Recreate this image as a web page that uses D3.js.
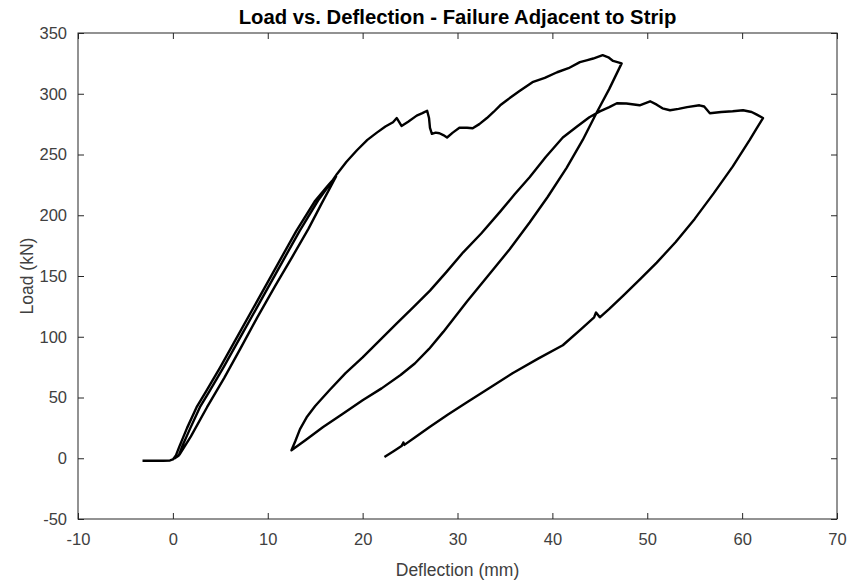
<!DOCTYPE html>
<html>
<head>
<meta charset="utf-8">
<script src="https://cdn.jsdelivr.net/npm/d3@7"></script>
<style>
  body { margin: 0; background: #fff; }
  text { font-family: "Liberation Sans", Arial, sans-serif; }
</style>
</head>
<body>
<svg width="849" height="582"></svg>
<script>
// test record: [deflection mm, load kN]
var preload = [[-3.2,-2],[-1,-2],[-0.3,-1.8],[0,-1]];
var load1 = [[0,-1],[0.3,2],[0.7,10],[1.5,25],[2.5,42],[3.5,55],[5,75],[7,103],[9,131],
    [11,159],[13,187],[15,212],[16.3,224],[17.2,232]];
var unload1 = [[16.6,223],[15.7,210],[14.3,189],[12.6,166],[10.8,142],[8.9,116],[7.1,90],[5.4,66],
    [3.6,42],[1.9,18],[0.7,3],[0.2,0]];
var reload1 = [[0.6,2],[1.0,10],[1.85,25],[2.85,42],[3.85,55],[5.35,75],[7.35,103],[9.35,131],
    [11.35,159],[13.35,187],[15.3,212],[16.5,225],[17.3,234]];
var yield1 = [[18.3,244],[19.4,253.5],[20.5,262],[21.5,268],[22.4,273],[23.2,276.5],[23.6,280],
    [24.1,273.5],[24.8,277],[25.7,282],[26.3,284],[26.8,286],[27.0,280],[27.1,272],[27.3,267],
    [27.7,268],[28.1,267.5],[28.5,266],[28.9,264],[29.5,268],[30.2,272],[31,272],[31.6,271.6],
    [32.3,275],[33.1,280],[33.8,285],[34.5,290.5],[35.2,294.7],[36.5,302],[37.9,309.5],[39.2,313],
    [40.5,317.7],[41.7,321],[42.9,326],[43.6,327.5],[44.3,329],[45.3,331.7],[45.9,330],[46.4,327],
    [47.3,325]];
var unload2 = [[46.0,304],[44.7,285],[43.2,262],[41.5,239],[39.5,215],[37.6,194],[35.5,172],
    [33.2,150],[31,129],[28.5,104],[27,90],[25.5,78],[24,68.5],[22,57.5],[20,47.7],
    [17.8,36],[15.8,25.5],[14,15],[12.5,6.6]];
var reload2 = [[12.9,14],[13.4,24],[14.1,33.7],[15,43],[16.5,56],[18.2,70],[20,83],[21.8,97],
    [23.6,111],[25.3,124],[27.1,138],[28.8,153],[30.6,169.5],[32.5,185],[34.5,203],[36,217],
    [37.6,231.3],[39.3,248],[41.1,264],[42.6,273],[43.9,280.7],[45,285.5],[46,289],[46.8,292.2],
    [47.8,292],[49.2,290.5],[50.3,293.8],[51,291],[51.6,288],[52.4,286.4],[53.3,287.5],[54.2,289],
    [55.5,290.5],[56,289.5],[56.6,284],[57.8,285],[59,285.6],[60.1,286.4],[61,285],[61.5,283],
    [62.2,280]];
var unload3 = [[61.5,271],[60.8,262],[59,240],[57,218],[55,197],[53,178],[51,161],[49.2,147],
    [47.5,134],[46,123],[45,116],[44.6,120],[44.4,116],[43,106],[41.1,93],[38.5,82],[35.8,70],
    [33.2,57],[31,46],[29,36],[27.1,26],[25.5,17],[24.4,11],[24.3,13],[24.1,10],[23.3,6],[22.3,1]];

var xTicks = [-10, 0, 10, 20, 30, 40, 50, 60, 70];
var yTicks = [-50, 0, 50, 100, 150, 200, 250, 300, 350];

var svg = d3.select("svg"),
    mLeft = 78, mRight = 837, mTop = 33, mBottom = 519;

var x = d3.scaleLinear().domain([-10, 70]).range([mLeft, mRight]);
var y = d3.scaleLinear().domain([-50, 350]).range([mBottom, mTop]);

var axisColor = "#262626", labelColor = "#404040";
var fmt = function(d) { return String(d); };

// box
svg.append("rect")
    .attr("x", mLeft).attr("y", mTop)
    .attr("width", mRight - mLeft).attr("height", mBottom - mTop)
    .attr("fill", "none").attr("stroke", axisColor).attr("stroke-width", 1);

function styleAxis(g) {
    g.select(".domain").remove();
    g.selectAll(".tick line").attr("stroke", axisColor);
    g.selectAll(".tick text").attr("fill", labelColor).style("font-size", "16.5px");
}

svg.append("g")
    .attr("transform", "translate(0," + mBottom + ")")
    .call(d3.axisBottom(x).tickValues(xTicks).tickSize(-6).tickPadding(14).tickFormat(fmt))
    .call(styleAxis);
svg.append("g")
    .attr("transform", "translate(0," + mTop + ")")
    .call(d3.axisTop(x).tickValues(xTicks).tickSize(-6).tickFormat(""))
    .call(styleAxis);
svg.append("g")
    .attr("transform", "translate(" + mLeft + ",0)")
    .call(d3.axisLeft(y).tickValues(yTicks).tickSize(-6).tickPadding(11).tickFormat(fmt))
    .call(styleAxis);
svg.append("g")
    .attr("transform", "translate(" + mRight + ",0)")
    .call(d3.axisRight(y).tickValues(yTicks).tickSize(-6).tickFormat(""))
    .call(styleAxis);

var points = [].concat(preload, load1, unload1, reload1, yield1, unload2, reload2, unload3);

var line = d3.line()
    .x(function(d) { return x(d[0]); })
    .y(function(d) { return y(d[1]); });

svg.append("path")
    .datum(points)
    .attr("d", line)
    .attr("fill", "none")
    .attr("stroke", "#000")
    .attr("stroke-width", 2.4)
    .attr("stroke-linejoin", "round");

svg.append("text")
    .attr("x", (mLeft + mRight) / 2).attr("y", 24)
    .attr("text-anchor", "middle")
    .style("font-size", "20.3px").style("font-weight", "bold")
    .attr("fill", "#000")
    .text("Load vs. Deflection - Failure Adjacent to Strip");

svg.append("text")
    .attr("x", (mLeft + mRight) / 2).attr("y", 576)
    .attr("text-anchor", "middle")
    .style("font-size", "17.5px")
    .attr("fill", labelColor)
    .text("Deflection (mm)");

svg.append("text")
    .attr("transform", "translate(33," + (mTop + mBottom) / 2 + ") rotate(-90)")
    .attr("text-anchor", "middle")
    .style("font-size", "17.5px")
    .attr("fill", labelColor)
    .text("Load (kN)");
</script>
</body>
</html>
